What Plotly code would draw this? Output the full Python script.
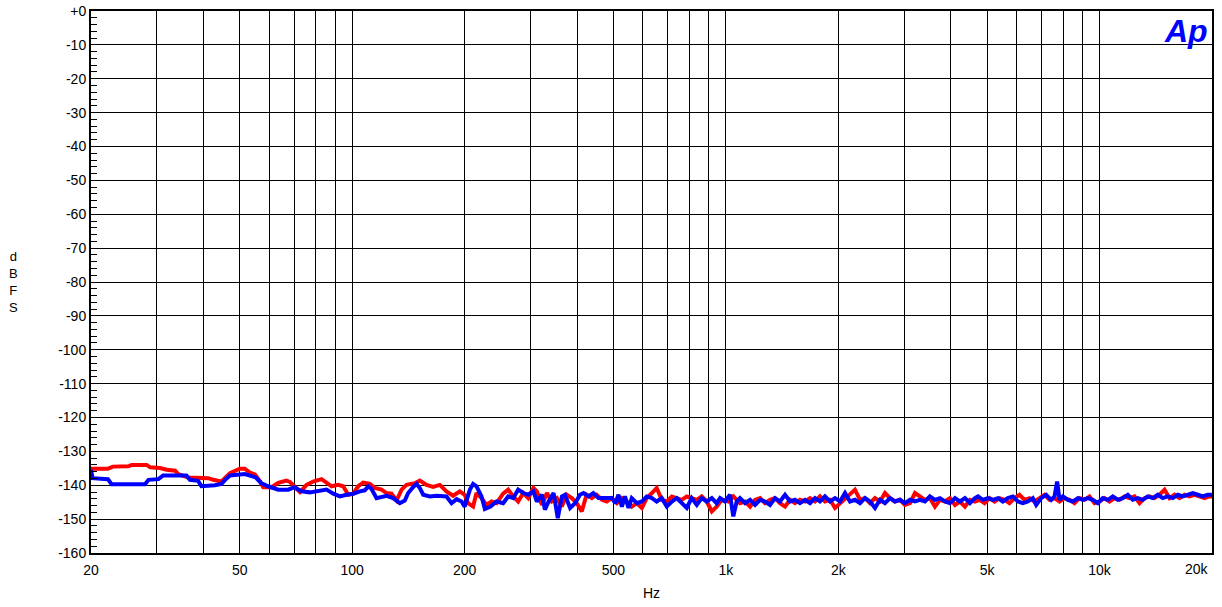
import math
import plotly.graph_objects as go

# ---------------- data ----------------
red_freq = [20, 22.2, 22.9, 25.2, 25.7, 28.2, 28.8, 30.6, 31.9, 33.6, 34.2, 36.4, 41.2, 42.5, 44.7, 47.1,
            50, 51.6, 53.3, 54.9, 56.6, 57.8, 60.8, 63.4, 66.7, 68.1, 70, 72.5, 75.5, 78.6, 82.8, 85.4,
            88.1, 91.7, 94.6, 97.6, 100.6, 103.8, 107, 111.5, 115, 119.8, 123.6, 127.4, 131.5, 135.6,
            139.8, 147.2, 151.7, 158.1, 164.7, 171.6, 178.8, 186.3, 194.1, 200, 204.3, 210.7, 215.1,
            221.9, 228.9, 236, 243.4, 253.5, 261.5, 269.7, 278.1,
            287, 296, 305.5, 312, 322, 332, 342, 353, 364, 375, 387, 399, 411.5, 424, 438, 451, 466, 480,
            495, 511, 527, 543, 560, 578, 596, 614, 634, 653, 674, 695, 717, 739, 762, 786, 810, 836,
            862, 889, 917, 945, 975, 1015, 1047,
            1091, 1126, 1161, 1197, 1235, 1273, 1313, 1354, 1396, 1440, 1485, 1531, 1579, 1629, 1680,
            1732, 1786, 1842, 1900, 1960, 2021, 2084, 2149, 2216, 2286, 2357, 2431, 2507, 2585, 2666,
            2750, 2835, 2924, 3015, 3110, 3207, 3307, 3411, 3517, 3628, 3741, 3858, 3979, 4104, 4231,
            4364, 4500, 4641,
            4775, 4925, 5078, 5237, 5401, 5568, 5743, 5923, 6109, 6300, 6497, 6701, 6911, 7128, 7350,
            7579, 7816, 8060, 8310, 8571, 8841, 9119, 9402, 9696, 10000, 10313, 10636, 10969, 11312,
            11666, 12031, 12407, 12796, 13196, 13609, 14035, 14474, 14927, 15394, 15876, 16372, 16885,
            17413, 17958, 18520, 19100, 19698, 20000]
red_db = [-135.1, -135.1, -134.5, -134.4, -134.0, -134.0, -134.7, -134.9, -135.4, -135.7, -136.7, -137.7,
          -137.9, -138.4, -138.9, -136.4,
          -135.1, -135.1, -136.3, -136.8, -138.8, -140.6, -140.6, -139.3, -138.6, -139.0, -140.3, -142.0,
          -139.9, -138.9, -138.2, -139.4,
          -140.3, -139.9, -140.3, -142.8, -142.5, -140.3, -139.2, -139.6, -140.8, -141.3, -142.3, -142.5,
          -144.5, -141.3,
          -139.9, -139.4, -138.6, -139.9, -140.5, -139.9, -141.8, -143.1, -141.8, -142.8, -145.3, -146.3,
          -142.3,
          -143.8, -145.8, -144.8, -145.3, -142.5, -141.3, -143.3, -144.8,
          -142.3, -143.8, -140.8, -141.8, -145.8, -142.3, -144.8, -143.8, -146.3, -142.8, -143.8, -145.3,
          -147.7, -142.8, -143.8, -142.8, -144.3, -144.8,
          -143.8, -145.3, -143.8, -144.8, -146.3, -145.3, -146.7, -143.8, -142.3, -140.8, -144.3, -144.8,
          -143.3, -143.8, -144.3, -143.3, -143.8, -144.3,
          -143.3, -144.8, -147.7, -146.3, -144.3, -144.8, -143.3,
          -145.3, -144.8, -146.3, -144.3, -143.8, -145.3, -144.3, -143.8, -145.3, -146.3, -144.3, -145.3,
          -144.3, -144.8, -143.8,
          -144.8, -143.3, -144.8, -144.3, -146.7, -145.3, -144.3, -142.8, -141.3, -144.3, -143.8, -145.3,
          -143.8, -144.8, -142.3,
          -143.8, -144.8, -144.3, -145.8, -145.3, -142.3, -143.3, -144.3, -143.8, -146.3, -144.3, -144.8,
          -143.8, -145.8, -144.8,
          -146.3, -144.3, -144.8,
          -144.3, -145.3, -143.8, -144.8, -143.8, -144.3, -145.3, -143.8, -142.8, -144.3, -143.8, -144.8,
          -143.8, -142.8, -144.3,
          -143.8, -144.8, -143.8, -144.3, -145.3, -143.8, -144.3, -143.3, -145.3, -144.8, -143.8, -144.8,
          -143.8, -144.3,
          -143.3, -143.8, -143.3, -145.3, -143.8, -143.3, -143.8, -142.8, -141.3, -143.8, -142.8, -143.8,
          -142.8,
          -143.3, -142.8, -143.3, -143.8, -143.3, -143.3]

blue_freq = [20, 20.2, 22.2, 22.7, 27.9, 28.5, 30.3, 31.2, 36.0, 36.8, 38.7, 39.5, 42.9, 44.7, 45.7, 47.1,
             51.6, 54.1, 55.2, 57.2, 59.6, 63.4, 67.4, 70, 73.2,
             77, 81.8, 85.4, 89, 92.7, 96.6, 100.6, 104.9, 108.1, 110.4, 112.7, 116.2, 119.8, 123.6, 128.7,
             134.1, 138.3, 141.2, 145.7, 148.7, 151.7, 154.9, 161.4, 168.2, 178.8, 184.5, 190.3, 196.2,
             200, 206.6, 210.7, 215.1, 221.9, 226.5, 234.6, 243.4, 253.5, 261.5, 269.7, 278.1,
             287, 296, 305.5, 312, 322, 328, 335.5, 346, 355, 364, 371, 383, 395, 407, 416, 429, 442, 456,
             475, 495, 506, 516, 527, 537, 549, 560, 578, 596, 614, 634, 653, 674, 695, 717, 739, 762, 786,
             810, 836, 862, 889, 917, 945, 965, 995, 1026, 1047, 1069,
             1091, 1126, 1161, 1197, 1235, 1273, 1313, 1354, 1396, 1440, 1485, 1531, 1579, 1629, 1680,
             1732, 1786, 1842, 1900, 1960, 2021, 2084, 2149, 2216, 2286, 2357, 2431, 2507, 2585, 2666,
             2750, 2835, 2924, 3015, 3110, 3207, 3307, 3411, 3517, 3628, 3741, 3858, 3979, 4104, 4231,
             4364, 4500, 4641,
             4730, 4874, 5026, 5183, 5346, 5513, 5685, 5862, 6046, 6235, 6430, 6631, 6769, 6980, 7198,
             7425, 7579, 7701, 7816, 7979, 8228, 8486, 8752, 9026, 9307, 9597, 9897, 10206, 10525, 10855,
             11194, 11544, 11905, 12277, 12661, 13057, 13465, 13885, 14319, 14767, 15229, 15705, 16196,
             16702, 17224, 17763, 18318, 18891, 19482, 20000]
blue_db = [-135.5, -137.9, -138.2, -139.7, -139.7, -138.4, -138.2, -137.1, -137.1, -138.4, -138.7, -140.3,
           -140.0, -139.6, -138.4, -137.1,
           -136.7, -137.4, -137.7, -139.4, -140.3, -141.3, -141.3, -140.6, -141.8,
           -142.1, -141.5, -141.3, -142.5, -143.3, -142.8, -142.5, -141.8, -141.5, -140.3, -141.1, -143.8,
           -143.5, -143.1, -143.8,
           -145.3, -144.5, -142.3, -140.5, -139.6, -140.8, -142.8, -143.3, -143.1, -143.3, -145.3, -144.1,
           -144.8,
           -146.3, -141.3, -139.6, -140.3, -143.3, -147.0, -146.3, -144.8, -145.3, -143.3, -143.8, -141.3,
           -142.3, -142.8, -141.8, -144.8, -142.8, -147.2, -144.8, -142.3, -149.7, -143.3, -142.8, -146.7,
           -145.3, -142.8, -142.3, -143.3, -142.3, -143.8,
           -143.8, -143.8, -145.3, -142.8, -146.3, -143.3, -146.7, -143.8, -145.3, -144.8, -143.3, -143.8,
           -144.8, -143.8, -146.3, -144.8, -143.8, -145.3, -146.7,
           -143.8, -145.8, -143.8, -144.8, -143.8, -145.3, -143.8, -144.8, -142.8, -149.2, -144.8,
           -143.8, -145.3, -144.3, -145.8, -144.3, -144.8, -145.8, -143.8, -144.8, -142.8, -144.8, -144.3,
           -145.3, -144.3, -145.3,
           -143.8, -144.8, -143.3, -144.8, -143.8, -144.8, -142.3, -144.8, -144.3, -145.3, -143.8, -144.8,
           -146.7, -144.3, -145.3,
           -143.8, -144.8, -144.3, -145.3, -144.3, -144.8, -144.3, -144.8, -143.3, -144.3, -143.8, -144.8,
           -145.3, -143.8, -144.8,
           -143.8, -145.3, -143.8,
           -143.3, -144.3, -143.8, -144.3, -143.8, -144.8, -143.8, -143.3, -144.8, -145.3, -144.8, -143.8,
           -145.8, -143.8, -142.8,
           -144.3, -143.3, -138.9, -144.3, -143.3, -144.3, -144.8, -143.8, -144.3, -143.8, -144.3, -145.3,
           -143.8, -144.3, -143.3,
           -144.3, -143.8, -142.8, -144.3, -143.8, -144.3, -143.3, -143.8, -142.8, -143.8, -143.3, -143.8,
           -142.8,
           -143.3, -142.8, -142.3, -142.8, -143.3, -142.8, -142.8]

grid_freqs = [20, 30, 40, 50, 60, 70, 80, 90, 100, 200, 300, 400, 500, 600, 700, 800, 900,
              1000, 2000, 3000, 4000, 5000, 6000, 7000, 8000, 9000, 10000, 20000]
labelled = {20: "20", 50: "50", 100: "100", 200: "200", 500: "500", 1000: "1k", 2000: "2k",
            5000: "5k", 10000: "10k"}
last_label = "20k"   # drawn at the right edge, inset like the reference
x_ticktext = [labelled.get(f, "") for f in grid_freqs]

y_ticks = list(range(0, -161, -10))
y_ticktext = ["+0"] + [str(v) for v in y_ticks[1:]]

# ---------------- figure ----------------
FONT = "Liberation Sans, Arial, sans-serif"

fig = go.Figure()
fig.add_trace(go.Scatter(x=red_freq, y=red_db, mode="lines",
                         line=dict(color="#ff0000", width=4), showlegend=False))
fig.add_trace(go.Scatter(x=blue_freq, y=blue_db, mode="lines",
                         line=dict(color="#0000ff", width=4), showlegend=False))

x_range = [math.log10(20) - 1e-6, math.log10(20000) + 1e-6]
fig.update_xaxes(type="log", range=x_range, automargin=False,
                 tickmode="array", tickvals=grid_freqs, ticktext=x_ticktext,
                 ticks="", ticklabelstandoff=3,
                 showgrid=True, gridcolor="#000000", gridwidth=1,
                 showline=True, linecolor="#000000", linewidth=2, mirror=True,
                 zeroline=False, tickfont=dict(family=FONT, size=14, color="#000000"),
                 title=dict(text="Hz", font=dict(family=FONT, size=14, color="#000000"), standoff=11))
fig.update_yaxes(range=[-160, 0], automargin=False,
                 tickmode="array", tickvals=y_ticks, ticktext=y_ticktext,
                 ticks="inside", ticklen=6, tickcolor="#000000",
                 minor=dict(dtick=2, ticks="inside", ticklen=6, tickcolor="#000000", showgrid=False),
                 showgrid=True, gridcolor="#000000", gridwidth=1,
                 showline=True, linecolor="#000000", linewidth=2, mirror=True,
                 zeroline=False, tickfont=dict(family=FONT, size=14, color="#000000"))

fig.add_annotation(text=last_label, xref="paper", yref="paper", x=1.0, y=0,
                   xanchor="right", yanchor="top", xshift=-1, yshift=-6, showarrow=False,
                   font=dict(family=FONT, size=14, color="#000000"))
fig.add_annotation(text="d<br>B<br>F<br>S", xref="paper", yref="paper", x=-0.0688, y=0.5,
                   xanchor="center", yanchor="middle", showarrow=False, align="center",
                   font=dict(family=FONT, size=13, color="#000000"))
fig.add_annotation(text="<b><i>Ap</i></b>", xref="paper", yref="paper", x=0.9985, y=1.0,
                   xanchor="right", yanchor="top", showarrow=False,
                   font=dict(family=FONT, size=32, color="#0000ff"))

fig.update_layout(width=1222, height=607, margin=dict(l=91, r=10, t=11, b=54, autoexpand=False),
                  paper_bgcolor="#ffffff", plot_bgcolor="#ffffff",
                  font=dict(family=FONT, size=14, color="#000000"))

fig.write_html("out.html", config={"displayModeBar": False},
               post_script="document.body.style.margin='0';document.body.style.padding='0';")
